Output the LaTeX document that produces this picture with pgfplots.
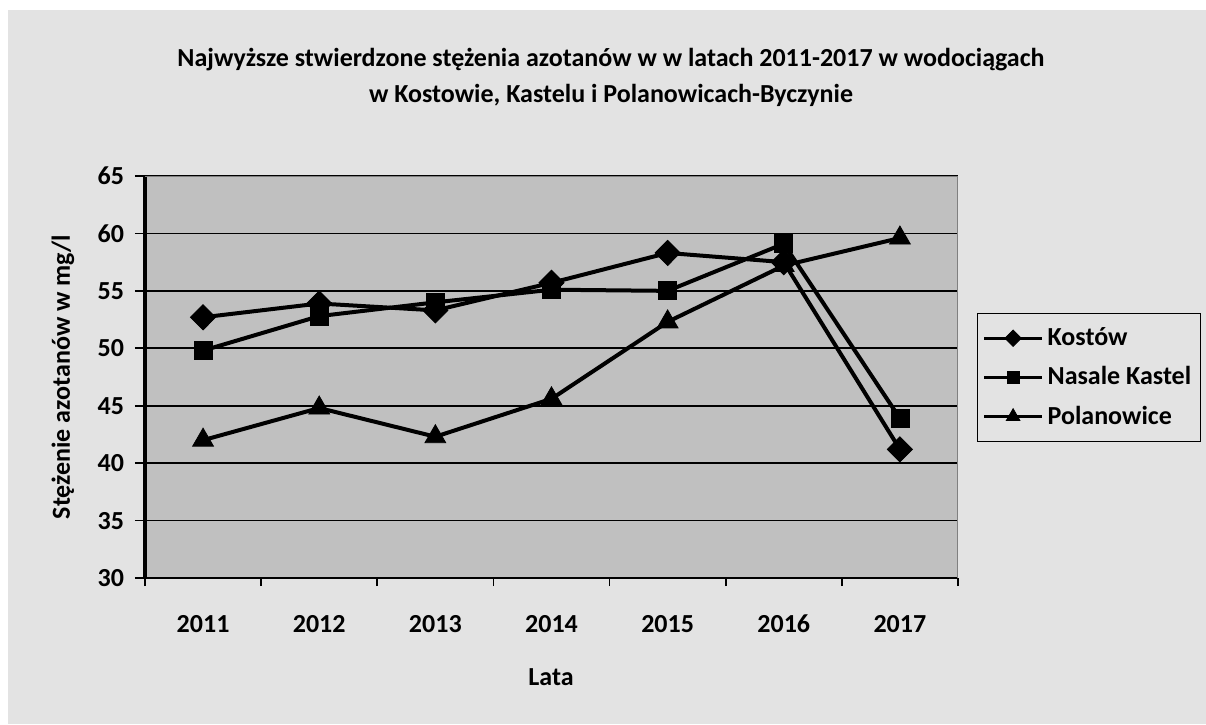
\documentclass[border=0pt]{standalone}
\usepackage{pgfplots}
\pgfplotsset{compat=1.18}
\usepackage{fontspec}
\setmainfont{Carlito}
\definecolor{outerbg}{HTML}{E3E3E3}
\definecolor{plotbg}{HTML}{C0C0C0}
\definecolor{bordergray}{HTML}{808080}
\newcommand{\lbl}{\bfseries\fontsize{13}{15.6}\selectfont}
\newcommand{\ttl}{\bfseries\fontsize{13}{15.6}\selectfont}
\begin{document}
\begin{tikzpicture}
\path[use as bounding box] (-72.5pt,-73pt) rectangle (530.5pt,289pt);
\fill[white] (-72.5pt,-73pt) rectangle (530.5pt,289pt);
\fill[outerbg] (-68.5pt,-73pt) rectangle (530.5pt,284pt);
\node[font=\ttl] at (233pt,259pt) {Najwyższe stwierdzone stężenia azotanów w w latach 2011-2017 w wodociągach};
\node[font=\ttl] at (233pt,241.5pt) {w Kostowie, Kastelu i Polanowicach-Byczynie};
\node[font=\lbl] at (203pt,-49.5pt) {Lata};
\node[font=\lbl, rotate=90] at (-41pt,100.5pt) {Stężenie azotanów w mg/l};
\begin{axis}[
  scale only axis, width=406.5pt, height=201pt,
  at={(0,0)}, anchor=south west,
  xmin=0.5, xmax=7.5, ymin=30, ymax=65,
  xtick={1,...,7}, xticklabels={2011,2012,2013,2014,2015,2016,2017},
  major x tick style={draw=none},
  minor xtick={0.5,1.5,...,7.5},
  ytick={30,35,...,65},
  ymajorgrids, grid style={black, line width=0.9pt},
  axis background/.style={fill=plotbg},
  axis x line*=bottom, axis y line*=left,
  x axis line style={-, black, line width=1pt},
  y axis line style={-, black, line width=1.6pt},
  tick align=outside,
  major tick length=5pt, minor tick length=4pt,
  tick style={black, line width=0.8pt},
  minor tick style={black, line width=0.8pt},
  /pgf/number format/assume math mode=true,
  ticklabel style={font=\lbl},
  xticklabel style={yshift=-10pt},
  yticklabel style={xshift=-2pt},
  legend style={at={(1.0234,0.659)}, anchor=north west, draw=black, line width=0.6pt,
    fill=outerbg, font=\lbl, row sep=5pt, inner xsep=2.5pt, inner ysep=5pt,
    cells={anchor=west}},
  legend image code/.code={\draw[mark repeat=2,mark phase=2,line width=1.5pt,
    /tikz/every mark/.append style={scale=0.65}]
    plot coordinates {(0pt,0pt)(14.5pt,0pt)(29pt,0pt)};},
]
\draw[bordergray, line width=0.8pt] (rel axis cs:0,1) -- (rel axis cs:1,1) -- (rel axis cs:1,0);
\addplot[black, line width=2pt, mark=diamond*, mark size=6.3pt,
  mark options={xscale=1.33, fill=black, line width=0.4pt, solid}]
  coordinates {(1,52.7)(2,53.9)(3,53.3)(4,55.7)(5,58.3)(6,57.5)(7,41.2)};
\addlegendentry{Kostów}
\addplot[black, line width=2pt, mark=square*, mark size=4.5pt,
  mark options={fill=black, line width=0.4pt, solid}]
  coordinates {(1,49.8)(2,52.8)(3,54.0)(4,55.1)(5,55.0)(6,59.1)(7,43.9)};
\addlegendentry{Nasale Kastel}
\addplot[black, line width=2pt, mark=triangle*, mark size=6pt,
  mark options={fill=black, line width=0.4pt, solid}]
  coordinates {(1,42.0)(2,44.8)(3,42.3)(4,45.6)(5,52.3)(6,57.2)(7,59.6)};
\addlegendentry{Polanowice}
\end{axis}
\end{tikzpicture}
\end{document}
